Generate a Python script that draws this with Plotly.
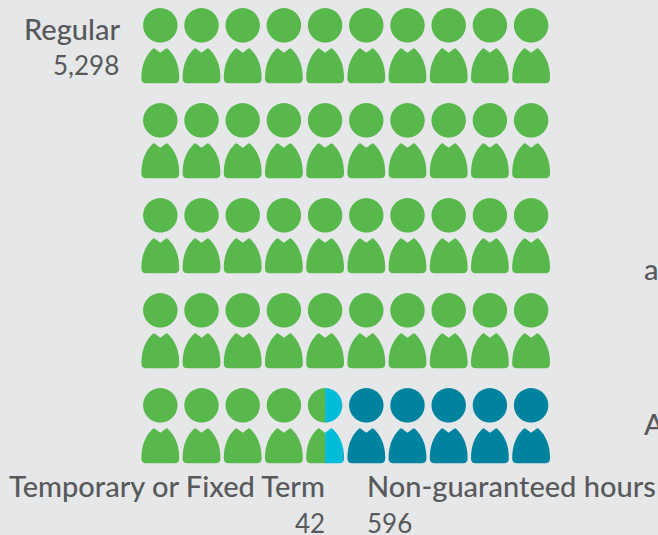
import numpy as np
import plotly.graph_objects as go

# --- data ---
categories = ["Regular", "Temporary or Fixed Term", "Non-guaranteed hours"]
value_labels = ["5,298", "42", "596"]
# cumulative number of icons filled by each category (50 icons in all)
icon_ends = [44.5, 44.98, 50.0]
colors = ["#58b84b", "#00bcd8", "#00839f"]
n_rows, n_cols = 5, 10
cut_off_labels = ["a", "A"]

BG = "#e6e7e9"
TXT = "#58595b"
X0, DX, Y0, DY = 160.3, 41.2, 25.3, 95.0
R = 17.2


def bez(p0, p1, p2, p3, n=16):
    t = np.linspace(0, 1, n)[:, None]
    p0, p1, p2, p3 = map(np.array, (p0, p1, p2, p3))
    return (1-t)**3*p0 + 3*(1-t)**2*t*p1 + 3*(1-t)*t**2*p2 + t**3*p3


# glyph outlines, relative to the head centre
th = np.linspace(0, 2*np.pi, 73)[:-1]
HEAD = np.c_[R*np.cos(th), R*np.sin(th)]
left = np.vstack([
    [[0, 27.4]],
    [[-5.4, 23.4]],
    [[-6.2, 23.0]],
    bez((-7.0, 23.1), (-11.5, 27), (-19, 36), (-18.9, 53.0)),
    bez((-18.9, 53.0), (-18.9, 56.5), (-17.2, 58), (-14.5, 58), 6),
])
right = left[::-1].copy()
right[:, 0] *= -1
BODY = np.vstack([left, right[:-1]])


def clip(poly, lo, hi):
    """Keep the part of a polygon with lo <= x <= hi."""
    def half(p, inside, edge):
        out = []
        for i in range(len(p)):
            a, b = p[i], p[(i+1) % len(p)]
            if inside(a):
                out.append(a)
            if inside(a) != inside(b):
                t = (edge-a[0])/(b[0]-a[0])
                out.append(a+t*(b-a))
        return np.array(out) if out else np.empty((0, 2))
    p = half(poly, lambda q: q[0] >= lo, lo)
    if len(p):
        p = half(p, lambda q: q[0] <= hi, hi)
    return p


def extent(poly):
    return poly[:, 0].min(), poly[:, 0].max()


fig = go.Figure()
starts = [0.0] + icon_ends[:-1]
for start, end, color in zip(starts, icon_ends, colors):
    xs, ys = [], []
    for idx in range(n_rows*n_cols):
        a, b = max(start, idx), min(end, idx+1)
        if b <= a:
            continue
        row, col = idx // n_cols, idx % n_cols
        cx, cy = X0 + col*DX, Y0 + row*DY
        for glyph in (HEAD, BODY):
            x0, x1 = extent(glyph)
            part = clip(glyph, x0+(a-idx)*(x1-x0), x0+(b-idx)*(x1-x0))
            if len(part) == 0:
                continue
            xs += list(part[:, 0]+cx) + [part[0, 0]+cx, None]
            ys += list(part[:, 1]+cy) + [part[0, 1]+cy, None]
    fig.add_trace(go.Scatter(x=xs, y=ys, mode="lines", fill="toself", fillcolor=color,
                             line=dict(width=0, color=color, simplify=False),
                             hoverinfo="skip", showlegend=False))

FONT = "Lato"
NAME = 29
VAL = 26


def label(text, x, y, anchor, size=NAME, weight=500):
    fig.add_annotation(x=x, y=y, text=text, showarrow=False, xanchor=anchor, yanchor="middle",
                       font=dict(family=FONT, size=size, color=TXT, weight=weight))


label(categories[0], 122, 28.5, "right")
label(value_labels[0], 121, 65, "right", VAL, 400)
label(categories[1], 326.5, 485, "right")
label(value_labels[1], 326.5, 522.5, "right", VAL, 400)
label(categories[2], 365, 485, "left")
label(value_labels[2], 365, 522.5, "left", VAL, 400)
label(cut_off_labels[0], 642, 268, "left")
label(cut_off_labels[1], 642, 423, "left")

fig.update_layout(
    width=658, height=535, margin=dict(l=0, r=0, t=0, b=0),
    paper_bgcolor=BG, plot_bgcolor=BG, showlegend=False,
    xaxis=dict(range=[0, 658], visible=False, fixedrange=True),
    yaxis=dict(range=[535, 0], visible=False, fixedrange=True),
)
fig.write_html("out.html", config=dict(displayModeBar=False),
               post_script="document.body.style.margin='0';document.body.style.background='%s';" % BG)
